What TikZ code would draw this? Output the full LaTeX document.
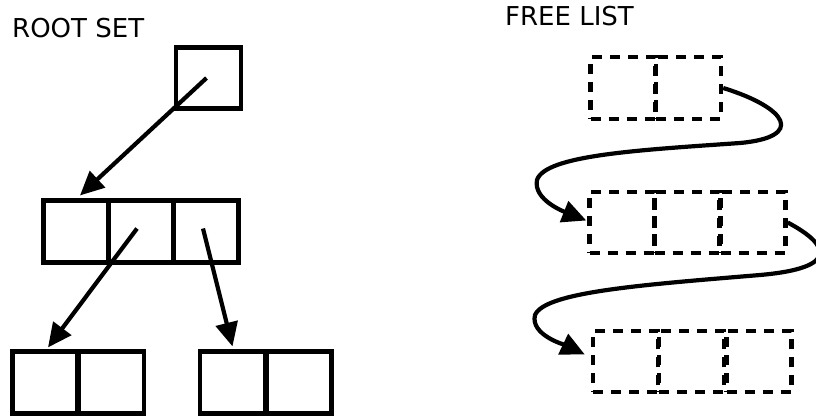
\documentclass[tikz,border=0pt]{standalone}
\usepackage{fontspec}
\setmainfont{DejaVu Sans}
\usetikzlibrary{arrows.meta}

\tikzset{
  cell/.style={draw, line width=4.6pt, minimum width=65pt, minimum height=61.5pt, inner sep=0pt},
  freecell/.style={cell, line width=4.4pt, dash pattern=on 10pt off 8pt},
  ptr/.style={line width=4.2pt, -{Triangle[length=24pt,width=22pt]}},
  heading/.style={anchor=base west, inner sep=0pt, font=\fontsize{26pt}{30pt}\selectfont}
}

\begin{document}
\begin{tikzpicture}[x=1pt, y=-1pt]
  \useasboundingbox (0,0) rectangle (816,415);
  \clip (0,0) rectangle (816,415);

  % headings
  \node[heading] (rootlbl) at (12,37) {ROOT SET};
  \node[heading] (freelbl) at (505,25) {FREE LIST};

  % reachable objects
  \node[cell] (root) at (208.5,78) {};
  \node[cell] (m1) at (76,231.5) {};
  \node[cell] (m2) at (141,231.5) {};
  \node[cell] (m3) at (206,231.5) {};
  \node[cell] (b1) at (45,382.5) {};
  \node[cell] (b2) at (111.5,382.5) {};
  \node[cell] (c1) at (232.5,382.5) {};
  \node[cell] (c2) at (299,382.5) {};

  \draw[ptr] ([shift={(-2,0)}]root.center) -- ([shift={(4,-3)}]m1.north);
  \draw[ptr] ([shift={(-4,-3)}]m2.center) -- ([shift={(3,-2)}]b1.north);
  \draw[ptr] ([shift={(-3,-3)}]m3.center) -- ([shift={(0,-3)}]c1.north);

  % free list
  \node[freecell] (f1a) at (623,88) {};
  \node[freecell] (f1b) at (688.5,88) {};
  \node[freecell] (f2a) at (622,222.5) {};
  \node[freecell] (f2b) at (687,222.5) {};
  \node[freecell] (f2c) at (753,222.5) {};
  \node[freecell] (f3a) at (625.5,361.5) {};
  \node[freecell] (f3b) at (691.5,361.5) {};
  \node[freecell] (f3c) at (759,361.5) {};

  \draw[ptr] (f1b.east) .. controls (788,108) and (805,137) .. (740,143)
             .. controls (640,150) and (545,155) .. (537,180)
             .. controls (533,200) and (565,212) .. ([shift={(-1,-2)}]f2a.west);
  \draw[ptr] (f2c.east) .. controls (830,245) and (840,268) .. (760,275)
             .. controls (640,285) and (545,292) .. (535,315)
             .. controls (530,335) and (565,345) .. ([shift={(-6,-7)}]f3a.west);
\end{tikzpicture}
\end{document}
